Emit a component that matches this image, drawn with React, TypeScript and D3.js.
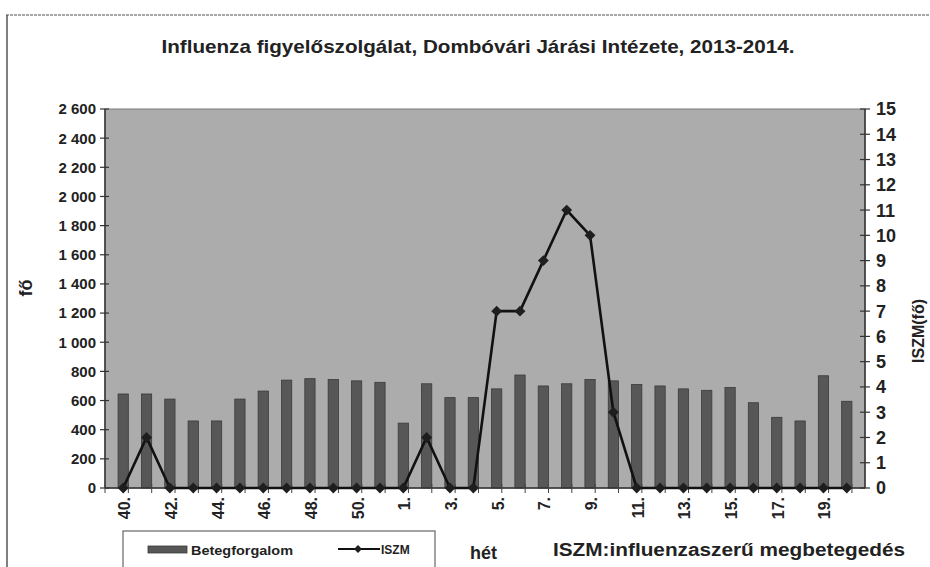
import React, { useEffect, useRef } from "react";
import * as d3 from "d3";

const width = 930;
const height = 567;
const margin = { top: 109, right: 65, bottom: 79, left: 105 };

// hetek: 40.-51. (2013), 1.-20. (2014)
const weeks = [
  "40", "41", "42", "43", "44", "45", "46", "47", "48", "49", "50", "51",
  "1", "2", "3", "4", "5", "6", "7", "8", "9", "10", "11", "12", "13", "14",
  "15", "16", "17", "18", "19", "20",
];
const betegforgalom = [
  645, 645, 610, 460, 460, 610, 665, 740, 750, 745, 735, 725, 445, 715, 620,
  620, 680, 775, 700, 715, 745, 735, 710, 700, 680, 670, 690, 585, 485, 460,
  770, 595,
];
const iszm = [
  0, 2, 0, 0, 0, 0, 0, 0, 0, 0, 0, 0, 0, 2, 0, 0, 7, 7, 9, 11, 10, 3, 0, 0, 0,
  0, 0, 0, 0, 0, 0, 0,
];
const leftTicks = d3.range(0, 2601, 200);
const rightTicks = d3.range(0, 16, 1);

const title = "Influenza figyelőszolgálat, Dombóvári Járási Intézete, 2013-2014.";
const narrow = "'Liberation Sans Narrow', 'Arial Narrow', sans-serif";
const sans = "'Liberation Sans', Arial, sans-serif";

const App = () => {
  const ref = useRef<SVGSVGElement>(null);

  useEffect(() => {
    const svg = d3.select(ref.current);
    svg.selectAll("*").remove();

    const x0 = margin.left;
    const x1 = width - margin.right;
    const y0 = height - margin.bottom;
    const y1 = margin.top;

    const x = d3.scaleBand<string>().domain(weeks).range([x0, x1]).padding(0.56);
    const yL = d3.scaleLinear().domain([0, 2600]).range([y0, y1]);
    const yR = d3.scaleLinear().domain([0, 15]).range([y0, y1]);
    const cx = (w: string) => (x(w) as number) + x.bandwidth() / 2;

    // chart frame (scanned page)
    svg.append("line").attr("x1", 6).attr("x2", width).attr("y1", 15).attr("y2", 15)
      .attr("stroke", "#8a8a8a").attr("stroke-width", 1.5).attr("stroke-dasharray", "3 1");
    svg.append("line").attr("x1", 7).attr("x2", 7).attr("y1", 15).attr("y2", height)
      .attr("stroke", "#555").attr("stroke-width", 1.5);

    svg.append("text")
      .attr("x", 478).attr("y", 53)
      .attr("text-anchor", "middle")
      .attr("font-family", narrow).attr("font-weight", "bold").attr("font-size", 19)
      .attr("fill", "#222")
      .attr("textLength", 633).attr("lengthAdjust", "spacingAndGlyphs")
      .text(title);

    // plot area
    svg.append("rect")
      .attr("x", x0).attr("y", y1).attr("width", x1 - x0).attr("height", y0 - y1)
      .attr("fill", "#acacac").attr("stroke", "#7a7a7a").attr("stroke-width", 1);

    // bars
    svg.append("g").selectAll("rect")
      .data(weeks)
      .join("rect")
      .attr("x", (w) => x(w) as number)
      .attr("y", (_, i) => yL(betegforgalom[i]))
      .attr("width", x.bandwidth())
      .attr("height", (_, i) => y0 - yL(betegforgalom[i]))
      .attr("fill", "#575757")
      .attr("stroke", "#3a3a3a")
      .attr("stroke-width", 0.8);

    // left axis
    const gl = svg.append("g");
    gl.append("line").attr("x1", x0).attr("x2", x0).attr("y1", y1).attr("y2", y0)
      .attr("stroke", "#333").attr("stroke-width", 1.5);
    gl.selectAll("line.t").data(leftTicks).join("line").attr("class", "t")
      .attr("x1", x0 - 5).attr("x2", x0 + 4)
      .attr("y1", (d) => yL(d)).attr("y2", (d) => yL(d))
      .attr("stroke", "#333").attr("stroke-width", 1.2);
    gl.selectAll("text").data(leftTicks).join("text")
      .attr("x", x0 - 9).attr("y", (d) => yL(d)).attr("dy", "0.36em")
      .attr("text-anchor", "end")
      .attr("font-family", sans).attr("font-weight", "bold").attr("font-size", 15)
      .attr("fill", "#222")
      .text((d) => d3.format(",")(d).replace(/,/g, " "));

    // right axis
    const gr = svg.append("g");
    gr.append("line").attr("x1", x1).attr("x2", x1).attr("y1", y1).attr("y2", y0)
      .attr("stroke", "#333").attr("stroke-width", 1.5);
    gr.selectAll("line.t").data(rightTicks).join("line").attr("class", "t")
      .attr("x1", x1 - 5).attr("x2", x1 + 5)
      .attr("y1", (d) => yR(d)).attr("y2", (d) => yR(d))
      .attr("stroke", "#333").attr("stroke-width", 1.2);
    gr.selectAll("text").data(rightTicks).join("text")
      .attr("x", x1 + 11).attr("y", (d) => yR(d)).attr("dy", "0.36em")
      .attr("font-family", sans).attr("font-weight", "bold").attr("font-size", 18)
      .attr("fill", "#222")
      .text((d) => d);

    // x axis
    const gx = svg.append("g");
    gx.append("line").attr("x1", x0).attr("x2", x1).attr("y1", y0).attr("y2", y0)
      .attr("stroke", "#333").attr("stroke-width", 1.5);
    const step = x.step();
    gx.selectAll("line.t").data(d3.range(weeks.length + 1)).join("line").attr("class", "t")
      .attr("x1", (i) => x0 + i * step).attr("x2", (i) => x0 + i * step)
      .attr("y1", y0 - 4).attr("y2", y0 + 5)
      .attr("stroke", "#444").attr("stroke-width", 1);
    gx.selectAll("text").data(weeks.filter((_, i) => i % 2 === 0)).join("text")
      .attr("transform", (w) => `translate(${cx(w) + 7},${y0 + 9}) rotate(-90)`)
      .attr("text-anchor", "end")
      .attr("font-family", sans).attr("font-weight", "bold").attr("font-size", 16)
      .attr("fill", "#222")
      .text((w) => w + ".");

    // ISZM line
    const line = d3.line<number>()
      .x((_, i) => cx(weeks[i]))
      .y((d) => yR(d));
    svg.append("path").datum(iszm)
      .attr("d", line)
      .attr("fill", "none").attr("stroke", "#111").attr("stroke-width", 2.6);
    const diamond = d3.symbol().type(d3.symbolDiamond2).size(75);
    svg.append("g").selectAll("path")
      .data(iszm)
      .join("path")
      .attr("transform", (d, i) => `translate(${cx(weeks[i])},${yR(d)})`)
      .attr("d", diamond)
      .attr("fill", "#1e1e1e");

    // axis titles
    svg.append("text")
      .attr("transform", `translate(32,288) rotate(-90)`)
      .attr("text-anchor", "middle")
      .attr("font-family", sans).attr("font-weight", "bold").attr("font-size", 18)
      .attr("fill", "#222")
      .text("fő");
    svg.append("text")
      .attr("transform", `translate(924,331) rotate(-90)`)
      .attr("text-anchor", "middle")
      .attr("font-family", sans).attr("font-weight", "bold").attr("font-size", 16)
      .attr("fill", "#222")
      .text("ISZM(fő)");
    svg.append("text")
      .attr("x", 470).attr("y", 559)
      .attr("font-family", sans).attr("font-weight", "bold").attr("font-size", 18)
      .attr("fill", "#222")
      .text("hét");
    svg.append("text")
      .attr("x", 553).attr("y", 556)
      .attr("font-family", sans).attr("font-weight", "bold").attr("font-size", 18)
      .attr("fill", "#222")
      .attr("textLength", 352).attr("lengthAdjust", "spacingAndGlyphs")
      .text("ISZM:influenzaszerű megbetegedés");

    // legend
    const lg = svg.append("g");
    lg.append("rect")
      .attr("x", 123).attr("y", 531).attr("width", 312).attr("height", 45)
      .attr("fill", "#fff").attr("stroke", "#666").attr("stroke-width", 1.2);
    lg.append("rect")
      .attr("x", 148).attr("y", 546).attr("width", 39).attr("height", 7)
      .attr("fill", "#575757").attr("stroke", "#3a3a3a").attr("stroke-width", 0.8);
    lg.append("text")
      .attr("x", 191).attr("y", 555)
      .attr("font-family", sans).attr("font-weight", "bold").attr("font-size", 13)
      .attr("fill", "#222")
      .attr("textLength", 102).attr("lengthAdjust", "spacingAndGlyphs")
      .text("Betegforgalom");
    lg.append("line")
      .attr("x1", 338).attr("x2", 380).attr("y1", 549).attr("y2", 549)
      .attr("stroke", "#111").attr("stroke-width", 2);
    lg.append("path")
      .attr("transform", "translate(358,549)")
      .attr("d", d3.symbol().type(d3.symbolDiamond2).size(40))
      .attr("fill", "#1e1e1e");
    lg.append("text")
      .attr("x", 381).attr("y", 554)
      .attr("font-family", sans).attr("font-weight", "bold").attr("font-size", 12)
      .attr("fill", "#222")
      .text("ISZM");
  }, []);

  return (
    <svg
      ref={ref}
      width={width}
      height={height}
      style={{ position: "absolute", left: 0, top: 0, display: "block" }}
    />
  );
};

export default App;
